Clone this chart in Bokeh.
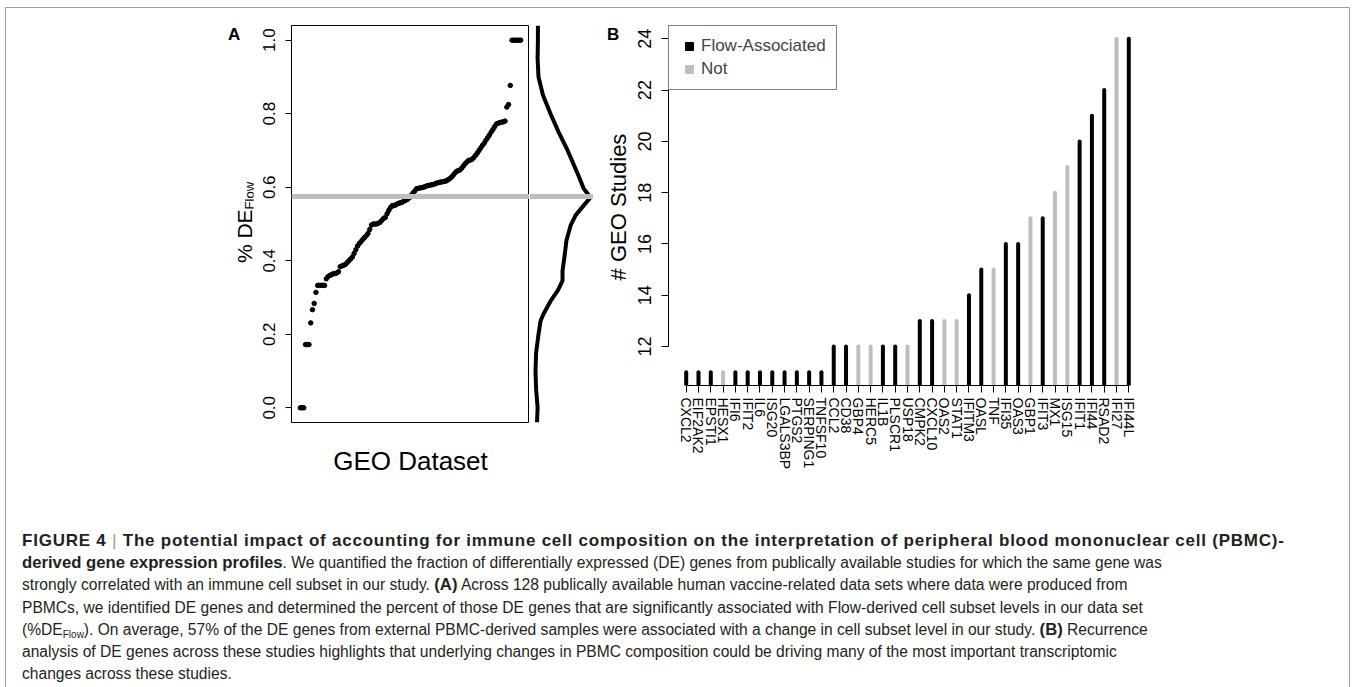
import numpy as np
from bokeh.plotting import figure
from bokeh.models import (Range1d, FixedTicker, PrintfTickFormatter, Span,
                          Div, Legend, LegendItem, ColumnDataSource)
from bokeh.layouts import row, column
from bokeh.embed import file_html
from bokeh.resources import INLINE

# ---------------- data: panel A ----------------
flow_pct = [0, 0, 0,
            .172, .172, .172,
            .231, .267, .284, .314,
            .333, .333, .333, .333, .333,
            .351, .357, .36, .362,
            .365, .365, .367, .37,
            .384, .386, .388, .39, .395, .40, .405, .41, .42,
            .43, .44, .447, .452, .458, .463, .468, .474, .485,
            .497, .50, .50, .50, .502, .505, .51, .515, .518,
            .528, .537, .545, .55, .55, .552, .555, .557, .558,
            .56, .563, .565, .568, .572, .578, .585, .59, .596,
            .597, .598, .599, .60, .602, .604, .605, .606, .607,
            .608, .61, .612, .613, .614, .615, .616, .617, .62,
            .623, .627, .632, .638, .643, .645, .647, .652, .658,
            .664, .669, .673, .674, .676, .681, .687, .693,
            .70, .707, .714, .72, .728, .735, .742, .75, .757,
            .765, .772, .774, .776, .777, .778, .78,
            .818, .825, .877,
            1, 1, 1, 1, 1, 1]
avg_flow = 0.575
a_ticks = [0.0, 0.2, 0.4, 0.6, 0.8, 1.0]

dens_y = [-0.04, 0.0, 0.05, 0.1, 0.15, 0.2, 0.237, 0.256, 0.29, 0.32, 0.346, 0.373,
          0.414, 0.455, 0.496, 0.523, 0.55, 0.572, 0.597, 0.632, 0.7, 0.75, 0.8,
          0.85, 0.9, 0.95, 1.0, 1.04]
dens_x = [0.25, 0.27, 0.22, 0.20, 0.22, 0.30, 0.37, 0.47, 0.70, 0.95, 1.10, 1.10,
          1.17, 1.23, 1.37, 1.53, 1.80, 2.03, 1.80, 1.63, 1.27, 0.97, 0.70,
          0.45, 0.30, 0.27, 0.28, 0.28]

# ---------------- data: panel B ----------------
genes = ["CXCL2", "EIF2AK2", "EPSTI1", "HESX1", "IFI6", "IFIT2", "IL6", "ISG20",
         "LGALS3BP", "PTGS2", "SERPING1", "TNFSF10", "CCL2", "CD38", "GBP4", "HERC5",
         "IL1B", "PLSCR1", "USP18", "CMPK2", "CXCL10", "OAS2", "STAT1", "IFITM3",
         "OASL", "TNF", "IFI35", "OAS3", "GBP1", "IFIT3", "MX1", "ISG15", "IFIT1",
         "IFI44", "RSAD2", "IFI27", "IFI44L"]
studies = [11, 11, 11, 11, 11, 11, 11, 11, 11, 11, 11, 11,
           12, 12, 12, 12, 12, 12, 12, 13, 13, 13, 13, 14,
           15, 15, 16, 16, 17, 17, 18, 19, 20, 21, 22, 24, 24]
flow_assoc = [1, 1, 1, 0, 1, 1, 1, 1, 1, 1, 1, 1,
              1, 1, 0, 0, 1, 1, 0, 1, 1, 0, 0, 1,
              1, 0, 1, 1, 0, 1, 0, 0, 1, 1, 1, 0, 1]
b_ticks = [12, 14, 16, 18, 20, 22, 24]
legend_labels = ["Flow-Associated", "Not"]

BLACK = "#000000"
GRAY = "#BEBEBE"
FONT = "Liberation Sans"
CSS_FONT = "'Liberation Sans',Arial,sans-serif"
ROW_H = 480
TOP = 17            # space above the plot frames
A_FRAME_H = 397
B_FRAME_H = 360

# ---------------- panel A ----------------
n = len(flow_pct)
idx = list(range(1, n + 1))
xpad = 0.04 * (n - 1)
ylo_a = min(flow_pct) - 0.04 * (max(flow_pct) - min(flow_pct))
yhi_a = max(flow_pct) + 0.04 * (max(flow_pct) - min(flow_pct))

pA = figure(frame_width=238, frame_height=A_FRAME_H, min_border_left=38, min_border_right=0,
            min_border_top=TOP, min_border_bottom=ROW_H - TOP - A_FRAME_H,
            x_range=Range1d(1 - xpad, n + xpad), y_range=Range1d(ylo_a, yhi_a),
            output_backend="svg", toolbar_location=None, title=None,
            outline_line_color="black", outline_line_width=1)
pA.grid.visible = False
pA.scatter(idx, flow_pct, size=4.5, color=BLACK)
pA.add_layout(Span(location=avg_flow, dimension="width", line_color=GRAY, line_width=5))

ya = pA.yaxis[0]
ya.ticker = FixedTicker(ticks=a_ticks)
ya.formatter = PrintfTickFormatter(format="%.1f")
ya.major_label_orientation = "vertical"
ya.major_label_text_font = FONT
ya.major_label_text_font_size = "17px"
ya.major_label_text_color = "black"
ya.major_tick_out = 6
ya.major_tick_in = 0
ya.minor_tick_line_color = None
ya.major_label_standoff = 10
ya.axis_line_color = None

xa = pA.xaxis[0]
xa.ticker = FixedTicker(ticks=[])
xa.axis_line_color = None
xa.major_tick_line_color = None
xa.minor_tick_line_color = None
xa.axis_label = "GEO Dataset"
xa.axis_label_text_font = FONT
xa.axis_label_text_font_size = "26px"
xa.axis_label_text_font_style = "normal"
xa.axis_label_text_color = "black"
xa.axis_label_standoff = 23

# ---------------- density strip ----------------
pD = figure(frame_width=64, frame_height=A_FRAME_H, min_border_left=0, min_border_right=0,
            min_border_top=TOP, min_border_bottom=ROW_H - TOP - A_FRAME_H,
            x_range=Range1d(0, max(dens_x) * 1.05), y_range=pA.y_range,
            x_axis_location=None, y_axis_location=None,
            output_backend="svg", toolbar_location=None, title=None,
            outline_line_color=None)
pD.grid.visible = False
pD.line(dens_x, dens_y, line_width=4, color=BLACK)
pD.add_layout(Span(location=avg_flow, dimension="width", line_color=GRAY, line_width=5))

# ---------------- panel B ----------------
m = len(genes)
bx = list(range(1, m + 1))
bxpad = 0.04 * (m - 1)
ymin_b, ymax_b = min(studies), max(studies)
bypad = 0.04 * (ymax_b - ymin_b)
ylo_b = ymin_b - bypad
yhi_b = ymax_b + bypad

pB = figure(frame_width=478, frame_height=B_FRAME_H, min_border_left=40, min_border_right=203,
            min_border_top=TOP, min_border_bottom=ROW_H - TOP - B_FRAME_H,
            x_range=Range1d(1 - bxpad, m + bxpad), y_range=Range1d(ylo_b, yhi_b),
            output_backend="svg", toolbar_location=None, title=None,
            outline_line_color=None)
pB.grid.visible = False
colors = [BLACK if f else GRAY for f in flow_assoc]
src = ColumnDataSource(dict(x=bx, top=studies, bottom=[ylo_b] * m, color=colors))
pB.segment(x0="x", y0="bottom", x1="x", y1="top", line_width=4, line_color="color",
           line_cap="round", source=src)

yb = pB.yaxis[0]
yb.ticker = FixedTicker(ticks=b_ticks)
yb.bounds = (min(b_ticks), max(b_ticks))
yb.major_label_orientation = "vertical"
yb.major_label_text_font = FONT
yb.major_label_text_font_size = "18px"
yb.major_label_text_color = "black"
yb.major_tick_out = 7
yb.major_tick_in = 0
yb.minor_tick_line_color = None
yb.major_label_standoff = 10

xb = pB.xaxis[0]
xb.ticker = FixedTicker(ticks=bx)
xb.major_label_overrides = {i: g for i, g in zip(bx, genes)}
xb.bounds = (1, m)
xb.major_label_orientation = "vertical"
xb.major_label_text_font = FONT
xb.major_label_text_font_size = "14px"
xb.major_label_text_color = "black"
xb.major_tick_out = 7
xb.major_tick_in = 0
xb.minor_tick_line_color = None
xb.major_label_standoff = 5

# legend key squares (drawn at size 0 on the bar tops, shown only in the key)
fx = [x for x, f in zip(bx, flow_assoc) if f]
fy = [s for s, f in zip(studies, flow_assoc) if f]
gx = [x for x, f in zip(bx, flow_assoc) if not f]
gy = [s for s, f in zip(studies, flow_assoc) if not f]
r1 = pB.scatter(x=fx, y=fy, marker="square", color=BLACK, size=0)
r2 = pB.scatter(x=gx, y=gy, marker="square", color=GRAY, size=0)
legend = Legend(items=[LegendItem(label=legend_labels[0], renderers=[r1]),
                       LegendItem(label=legend_labels[1], renderers=[r2])],
                location="top_left", margin=0, padding=10, spacing=3,
                glyph_width=20, glyph_height=20, label_height=20, label_standoff=2,
                border_line_color="black", border_line_width=1,
                label_text_font=FONT, label_text_font_size="17px",
                background_fill_alpha=1.0)
pB.add_layout(legend)

# ---------------- free texts: panel letters and rotated y titles ----------------
def rotated(text, cx, cy, size, w=300):
    """text rotated 90deg counter-clockwise, centred at (cx, cy) inside its strip"""
    return ("<div style=\"position:absolute;left:%.1fpx;top:%.1fpx;width:%dpx;height:%dpx;"
            "line-height:%dpx;text-align:center;white-space:nowrap;font-size:%dpx;"
            "transform-origin:%dpx %.1fpx;transform:rotate(-90deg);\">%s</div>"
            % (cx - w / 2, cy - size / 2, w, size, size, size, w / 2, size / 2, text))


def letter(text, left, top):
    return ("<div style=\"position:absolute;left:%dpx;top:%dpx;font-weight:bold;"
            "font-size:17px;line-height:20px;\">%s</div>" % (left, top, text))


LW = 247
txtA = ("<div style=\"position:relative;width:%dpx;height:%dpx;font-family:%s;color:#000;\">"
        % (LW, ROW_H, CSS_FONT)
        + letter("A", 222, 17)
        + rotated("% DE<span style='font-size:13px;position:relative;top:2px;'>Flow</span>",
                  237.7, 214, 21)
        + "</div>")
divA = Div(text=txtA, width=LW, height=ROW_H, margin=0)

BW = 35
txtB = ("<div style=\"position:relative;width:%dpx;height:%dpx;font-family:%s;color:#000;\">"
        % (BW, ROW_H, CSS_FONT)
        + letter("B", 14, 17)
        + rotated("# GEO Studies", 26.4, 199, 22)
        + "</div>")
divB = Div(text=txtB, width=BW, height=ROW_H, margin=0)

# ---------------- caption ----------------
BD = "<span style=\"font-family:%s;font-weight:bold;font-size:16.7px;\">" % CSS_FONT
E = "</span>"
heading = ("<span style=\"font-family:%s;font-weight:bold;"
           "font-size:17px;letter-spacing:0.77px;\">FIGURE 4 "
           "<span style='color:#9a9a9a;font-weight:normal'>|</span> The potential impact of "
           "accounting for immune cell composition on the interpretation of peripheral blood "
           "mononuclear cell (PBMC)-</span>" % CSS_FONT)
lines = [
    heading,
    BD + "derived gene expression profiles" + E + ". We quantified the fraction of differentially expressed (DE) genes from publically available studies for which the same gene was",
    "strongly correlated with an immune cell subset in our study. " + BD + "(A)" + E + " Across 128 publically available human vaccine-related data sets where data were produced from",
    "PBMCs, we identified DE genes and determined the percent of those DE genes that are significantly associated with Flow-derived cell subset levels in our data set",
    "(%DE<span style='font-size:10px;position:relative;top:3px;line-height:0'>Flow</span>). On average, 57% of the DE genes from external PBMC-derived samples were associated with a change in cell subset level in our study. " + BD + "(B)" + E + " Recurrence",
    "analysis of DE genes across these studies highlights that underlying changes in PBMC composition could be driving many of the most important transcriptomic",
    "changes across these studies.",
]
html = ("<div style=\"font-family:%s;"
        "font-size:15.6px;line-height:22.2px;color:#231f20;white-space:nowrap;"
        "padding:42px 0 0 16px;\">" % CSS_FONT + "<br>".join(lines) + "</div>")
cap = Div(text=html, width=1343, height=199, margin=0)

top = row(divA, pA, pD, divB, pB)
layout = column(top, cap, styles={"margin-top": "7px", "margin-left": "5px",
                                  "border-top": "1px solid #a0a0a0",
                                  "border-left": "1px solid #a0a0a0",
                                  "border-right": "1px solid #a0a0a0"})

open("out.html", "w").write(file_html(layout, INLINE))
